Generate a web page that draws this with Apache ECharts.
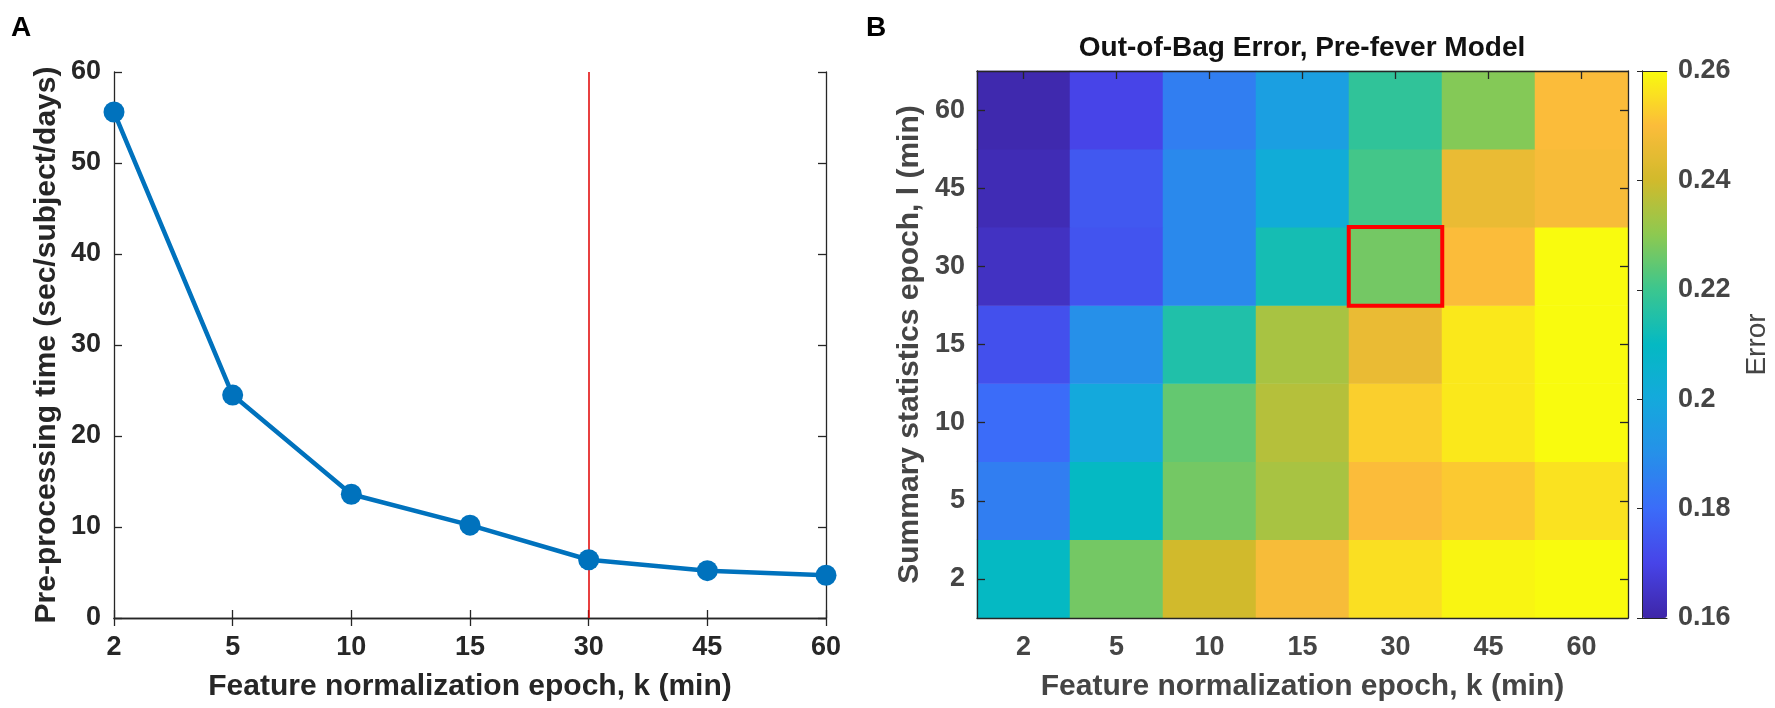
<!DOCTYPE html>
<html>
<head>
<meta charset="utf-8">
<script src="https://cdn.jsdelivr.net/npm/echarts@6/dist/echarts.min.js"></script>
<style>
  html, body { margin: 0; padding: 0; background: #fff; }
  #chart { width: 1775px; height: 708px; }
</style>
</head>
<body>
<div id="chart"></div>
<script>
// panel A: pre-processing time per feature normalization epoch
const epochK = ["2", "5", "10", "15", "30", "45", "60"];
const preprocTime = [55.6, 24.5, 13.6, 10.2, 6.4, 5.2, 4.7];
const chosenK = "30";

// panel B: out-of-bag error, one row per summary statistics epoch l
const epochL = ["2", "5", "10", "15", "30", "45", "60"];
const errL2 = [0.210, 0.227, 0.240, 0.249, 0.2555, 0.259, 0.260];
const errL5 = [0.185, 0.210, 0.227, 0.234, 0.250, 0.252, 0.256];
const errL10 = [0.180, 0.200, 0.225, 0.236, 0.253, 0.257, 0.260];
const errL15 = [0.173, 0.190, 0.215, 0.234, 0.246, 0.257, 0.260];
const errL30 = [0.164, 0.174, 0.188, 0.213, 0.227, 0.250, 0.260];
const errL45 = [0.162, 0.175, 0.188, 0.202, 0.221, 0.246, 0.249];
const errL60 = [0.161, 0.170, 0.185, 0.196, 0.218, 0.229, 0.250];
const chosenCell = { k: "30", l: "30" };

const errRange = [0.16, 0.26];
const parula = ["#3E26A8", "#4744E8", "#3B6CF9", "#2690E9", "#14A9DC", "#05B9C3",
  "#3BC68F", "#8CC951", "#D1BA2C", "#FBBC3A", "#F9FB0E"];

const errRows = [errL2, errL5, errL10, errL15, errL30, errL45, errL60];
const heatData = [];
errRows.forEach((row, li) => {
  row.forEach((v, ki) => heatData.push([ki, li, v]));
});

const FONT = "'Liberation Sans', Arial, Helvetica, sans-serif";
const dark = "#262626";
const grey = "#454545";

const chart = echarts.init(document.getElementById("chart"));

const tickLabel = (color) => ({
  color, fontSize: 27, fontWeight: "bold", fontFamily: FONT,
});
const nameStyle = (color) => ({
  color, fontSize: 30, fontWeight: "bold", fontFamily: FONT,
});
const mirror = {
  axisLine: { show: true, lineStyle: { color: dark, width: 1.3 } },
  axisTick: { show: true, inside: true, length: 8, lineStyle: { color: dark, width: 1.3 } },
  axisLabel: { show: false },
  splitLine: { show: false },
};

chart.setOption({
  animation: false,
  grid: [
    { left: 114, top: 72, width: 712, height: 546 },
    { left: 977, top: 71, width: 651, height: 547 },
    { left: 1642, top: 71, width: 25, height: 547 },
  ],
  graphic: [
    { type: "text", x: 21, y: 28, style: { text: "A", fill: "#000", font: "bold 28px " + FONT, textAlign: "center", textVerticalAlign: "middle" } },
    { type: "text", x: 876, y: 28, style: { text: "B", fill: "#000", font: "bold 28px " + FONT, textAlign: "center", textVerticalAlign: "middle" } },
    { type: "text", x: 1302, y: 48, style: { text: "Out-of-Bag Error, Pre-fever Model", fill: "#111", font: "bold 28px " + FONT, textAlign: "center", textVerticalAlign: "middle" } },
  ],
  xAxis: [
    {
      gridIndex: 0, type: "category", data: epochK, boundaryGap: false, position: "bottom",
      name: "Feature normalization epoch, k (min)", nameLocation: "middle", nameGap: 54,
      nameTextStyle: nameStyle(dark),
      axisLine: { lineStyle: { color: dark, width: 1.3 } },
      axisTick: { inside: true, length: 8, lineStyle: { color: dark, width: 1.3 } },
      axisLabel: Object.assign(tickLabel(dark), { margin: 16 }),
      splitLine: { show: false },
    },
    Object.assign({ gridIndex: 0, type: "category", data: epochK, boundaryGap: false, position: "top" }, mirror),
    {
      gridIndex: 1, type: "category", data: epochK, position: "bottom", z: 5,
      name: "Feature normalization epoch, k (min)", nameLocation: "middle", nameGap: 54,
      nameTextStyle: nameStyle(grey),
      axisLine: { lineStyle: { color: dark, width: 1.3 } },
      axisTick: { inside: true, length: 8, alignWithLabel: true, lineStyle: { color: dark, width: 1.3 } },
      axisLabel: Object.assign(tickLabel(grey), { margin: 16 }),
      splitLine: { show: false },
    },
    Object.assign({ gridIndex: 1, type: "category", data: epochK, position: "top", z: 5 }, mirror,
      { axisTick: { show: true, inside: true, length: 8, alignWithLabel: true, lineStyle: { color: dark, width: 1.3 } } }),
    {
      gridIndex: 2, type: "value", min: 0, max: 1, position: "bottom", z: 5,
      axisLine: { show: true, lineStyle: { color: dark, width: 1 } },
      axisTick: { show: false }, axisLabel: { show: false }, splitLine: { show: false },
    },
    {
      gridIndex: 2, type: "value", min: 0, max: 1, position: "top", z: 5,
      axisLine: { show: true, lineStyle: { color: dark, width: 1 } },
      axisTick: { show: false }, axisLabel: { show: false }, splitLine: { show: false },
    },
  ],
  yAxis: [
    {
      gridIndex: 0, type: "value", min: 0, max: 60, interval: 10, position: "left",
      name: "Pre-processing time (sec/subject/days)", nameLocation: "middle", nameGap: 52,
      nameTextStyle: nameStyle(dark),
      axisLine: { show: true, lineStyle: { color: dark, width: 1.3 } },
      axisTick: { show: true, inside: true, length: 8, lineStyle: { color: dark, width: 1.3 } },
      axisLabel: Object.assign(tickLabel(dark), { margin: 13 }),
      splitLine: { show: false },
    },
    Object.assign({ gridIndex: 0, type: "value", min: 0, max: 60, interval: 10, position: "right" }, mirror),
    {
      gridIndex: 1, type: "category", data: epochL, position: "left", z: 5,
      name: "Summary statistics epoch, l (min)", nameLocation: "middle", nameGap: 52,
      nameTextStyle: nameStyle(grey),
      axisLine: { show: true, lineStyle: { color: dark, width: 1.3 } },
      axisTick: { show: true, inside: true, length: 8, alignWithLabel: true, lineStyle: { color: dark, width: 1.3 } },
      axisLabel: Object.assign(tickLabel(grey), { margin: 12 }),
      splitLine: { show: false },
    },
    Object.assign({ gridIndex: 1, type: "category", data: epochL, position: "right", z: 5 }, mirror,
      { axisTick: { show: true, inside: true, length: 8, alignWithLabel: true, lineStyle: { color: dark, width: 1.3 } } }),
    {
      gridIndex: 2, type: "value", min: errRange[0], max: errRange[1], interval: 0.02, position: "right", z: 5,
      name: "Error", nameLocation: "middle", nameGap: 76, nameRotate: 90,
      nameTextStyle: { color: grey, fontSize: 28, fontFamily: FONT },
      axisLine: { show: true, lineStyle: { color: dark, width: 1 } },
      axisTick: { show: true, inside: true, length: 5, lineStyle: { color: dark, width: 1 } },
      axisLabel: Object.assign(tickLabel(grey), {
        margin: 11,
        formatter: (v) => String(Number(v.toFixed(2))),
      }),
      splitLine: { show: false },
    },
    {
      gridIndex: 2, type: "value", min: errRange[0], max: errRange[1], position: "left", z: 5,
      axisLine: { show: true, lineStyle: { color: dark, width: 1 } },
      axisTick: { show: false }, axisLabel: { show: false }, splitLine: { show: false },
    },
  ],
  visualMap: {
    type: "continuous",
    seriesIndex: 1,
    min: errRange[0],
    max: errRange[1],
    orient: "vertical",
    left: 1642,
    top: 71,
    itemWidth: 25,
    itemHeight: 547,
    padding: 0,
    calculable: false,
    hoverLink: false,
    text: null,
    textStyle: { color: "transparent", fontSize: 1 },
    inRange: { color: parula },
  },
  series: [
    {
      type: "line",
      xAxisIndex: 0,
      yAxisIndex: 0,
      data: preprocTime,
      symbol: "circle",
      symbolSize: 21,
      lineStyle: { color: "#0072BD", width: 4.5 },
      itemStyle: { color: "#0072BD" },
      z: 3,
      markLine: {
        silent: true,
        symbol: "none",
        label: { show: false },
        lineStyle: { color: "#E00000", width: 1.5, type: "solid" },
        data: [{ xAxis: chosenK }],
        z: 2,
      },
    },
    {
      type: "heatmap",
      xAxisIndex: 2,
      yAxisIndex: 2,
      data: heatData,
      itemStyle: { borderWidth: 0 },
      emphasis: { disabled: true },
    },
    {
      type: "heatmap",
      xAxisIndex: 2,
      yAxisIndex: 2,
      data: [[epochK.indexOf(chosenCell.k), epochL.indexOf(chosenCell.l), 0]],
      itemStyle: { color: "rgba(0,0,0,0)", borderColor: "#FF0000", borderWidth: 4 },
      emphasis: { disabled: true },
      z: 4,
    },
  ],
});
</script>
</body>
</html>
